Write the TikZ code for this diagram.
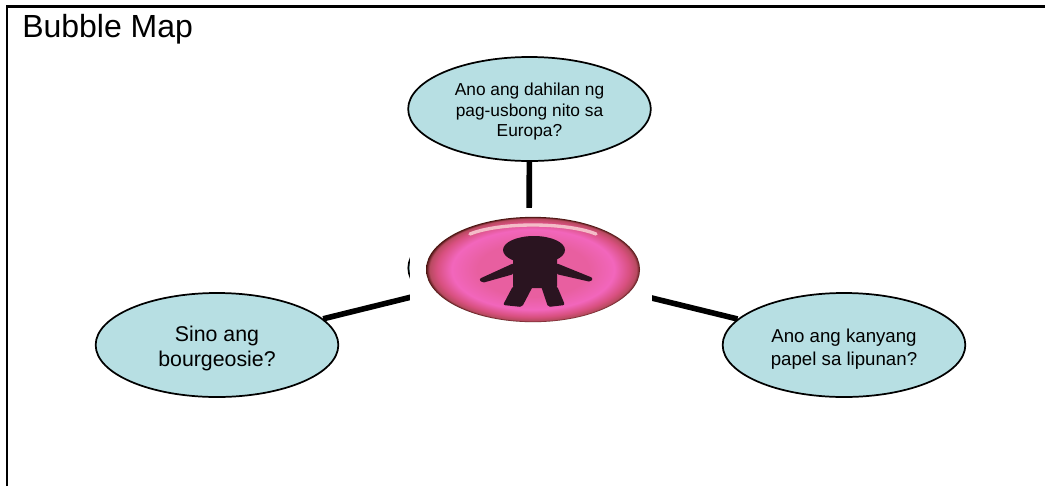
\documentclass[tikz,border=0pt]{standalone}
\usepackage{fontspec}
\setmainfont{Liberation Sans}
\usepackage{tikz}
\usetikzlibrary{shapes.geometric}
\definecolor{bubblefill}{HTML}{B7DFE3}
\definecolor{figuredark}{HTML}{2A1420}
\definecolor{rimdark}{HTML}{4A1410}
\definecolor{rimred}{HTML}{B84A60}
\definecolor{pinkmid}{HTML}{E85FA0}
\definecolor{pinkglow}{HTML}{F266BC}
\definecolor{pinkedge}{HTML}{D8507F}
\definecolor{pinklight}{HTML}{F4BCC8}
\pgfdeclareradialshading{buttonshade}{\pgfpoint{0bp}{0bp}}{color(0bp)=(pinkmid); color(13bp)=(pinkmid); color(19bp)=(pinkglow); color(22.5bp)=(pinkedge); color(24.2bp)=(rimred); color(25bp)=(rimdark); color(50bp)=(rimdark)}
\newcommand{\lift}[1]{\rule{0pt}{#1}}

\begin{document}
\begin{tikzpicture}[x=0.75pt,y=-0.75pt]
\tikzset{bubble/.style = {shape=ellipse,draw,fill=bubblefill,line width=1.3pt,inner sep=0pt,
minimum width=182pt,minimum height=78pt,align=center}}
\tikzset{edge/.style = {line width=4.2pt}}
\tikzset{frame/.style = {line width=1.6pt}}
\tikzset{figure/.style = {fill=figuredark,draw=none,rounded corners=1.5pt}}
\useasboundingbox (0,0) rectangle (1045,486);
% frame and title
\draw[frame] (7,486) -- (7,6.5) -- (1045,6.5);
\node[anchor=west,inner sep=0pt,font=\fontsize{24pt}{28pt}\selectfont] (title) at (22,29) {Bubble Map};
% vertices
\node[bubble,minimum width=181pt,minimum height=78pt] (hub) at (529,268) {};
\node[bubble,font=\fontsize{13pt}{15.4pt}\selectfont] (top) at (529.5,109) {\lift{13.3pt}Ano ang dahilan ng\\pag-usbong nito sa\\Europa?};
\node[bubble,font=\fontsize{16pt}{18.75pt}\selectfont] (left) at (217,345) {\lift{16.2pt}Sino ang\\bourgeosie?};
\node[bubble,font=\fontsize{14pt}{17.25pt}\selectfont] (right) at (844,345) {\lift{16pt}Ano ang kanyang\\papel sa lipunan?};
%edges
\draw[edge] (hub) to (top);
\draw[edge] (hub) to (left);
\draw[edge] (hub) to (right);
% picture over the hub
\node[fill=white,inner sep=0pt,minimum width=181.5pt,minimum height=90pt] (patch) at (531,268) {};
\node[shape=ellipse,shading=buttonshade,inner sep=0pt,minimum width=160.5pt,minimum height=79pt] (button) at (533,269.5) {};
\draw[pinklight,line width=2.5pt,line cap=round] (470,234) .. controls (500,222) and (566,222) .. (596,234);
\fill[figure] (534,250) ellipse [x radius=31,y radius=14];
\fill[figure] (513,255) -- (557,255) -- (557,288) -- (513,288) -- cycle;
\fill[figure] (514,263) -- (479,279) -- (482,283) -- (514,274) -- cycle;
\fill[figure] (556,263) -- (593,278) -- (591,282) -- (556,274) -- cycle;
\fill[figure] (513,286) -- (533,286) -- (522,307) -- (503,305) -- cycle;
\fill[figure] (541,286) -- (557,286) -- (565,305) -- (548,307) -- cycle;
\end{tikzpicture}
\end{document}
